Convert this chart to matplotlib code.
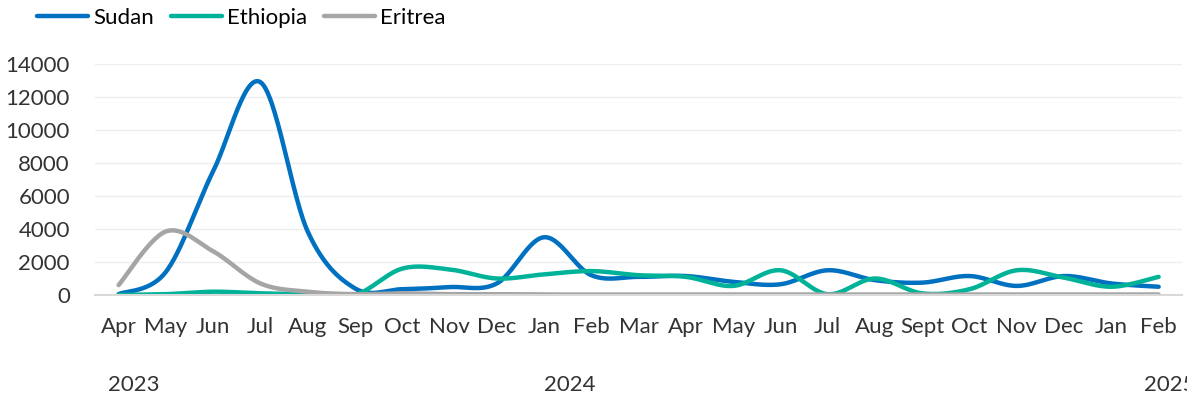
import numpy as np
import matplotlib.pyplot as plt

plt.rcParams['font.family'] = ['Lato', 'DejaVu Sans']

months = ['Apr', 'May', 'Jun', 'Jul', 'Aug', 'Sep', 'Oct', 'Nov', 'Dec', 'Jan',
          'Feb', 'Mar', 'Apr', 'May', 'Jun', 'Jul', 'Aug', 'Sept', 'Oct', 'Nov',
          'Dec', 'Jan', 'Feb']
sudan = [50, 1400, 7500, 12900, 3850, 400, 350, 480, 700, 3500,
         1200, 1100, 1150, 800, 650, 1500, 900, 750, 1150, 550,
         1150, 700, 500]
ethiopia = [0, 50, 200, 100, 50, 0, 1600, 1550, 1000, 1250,
            1450, 1200, 1100, 550, 1500, 50, 1000, 100, 350, 1500,
            1050, 500, 1100]
eritrea = [600, 3850, 2650, 700, 200, 50, 100, 50, 50, 30,
           30, 30, 30, 30, 30, 30, 30, 30, 30, 30,
           30, 30, 30]
years = ['2023', '2024', '2025']
year_pos = [-0.22, 9.0, 21.7]


def smooth(y, n=30):
    # Excel-like smoothed line: cubic Bezier through points (Catmull-Rom)
    y = np.asarray(y, dtype=float)
    x = np.arange(len(y), dtype=float)
    px = np.concatenate([[x[0]], x, [x[-1]]])
    py = np.concatenate([[y[0]], y, [y[-1]]])
    xs, ys = [], []
    t = np.linspace(0, 1, n)
    for i in range(1, len(px) - 2):
        p0 = np.array([px[i], py[i]])
        p3 = np.array([px[i + 1], py[i + 1]])
        p1 = p0 + (np.array([px[i + 1], py[i + 1]]) - np.array([px[i - 1], py[i - 1]])) / 6
        p2 = p3 - (np.array([px[i + 2], py[i + 2]]) - np.array([px[i], py[i]])) / 6
        b = ((1 - t) ** 3)[:, None] * p0 + (3 * (1 - t) ** 2 * t)[:, None] * p1 \
            + (3 * (1 - t) * t ** 2)[:, None] * p2 + (t ** 3)[:, None] * p3
        xs.append(b[:, 0])
        ys.append(b[:, 1])
    return np.concatenate(xs), np.concatenate(ys)


fig = plt.figure(figsize=(11.87, 4), dpi=100)
ax = fig.add_axes([0.080, 0.2625, 0.916, 0.5775])

for data, color, label in [(sudan, '#0070C0', 'Sudan'),
                           (ethiopia, '#00B398', 'Ethiopia'),
                           (eritrea, '#A5A5A5', 'Eritrea')]:
    sx, sy = smooth(data)
    ax.plot(sx, sy, color=color, lw=3.2, label=label, solid_capstyle='round')

ax.set_xlim(-0.5, len(months) - 0.5)
ax.set_ylim(0, 14000)
ax.set_yticks(np.arange(0, 14001, 2000))
ax.set_xticks(np.arange(len(months)))
ax.set_xticklabels(months)
ax.tick_params(axis='both', length=0, labelsize=16, colors='#333333')
ax.tick_params(axis='x', pad=16)
ax.tick_params(axis='y', pad=18)
ax.grid(axis='y', color='#EEEEEE', lw=1)
ax.set_axisbelow(True)
for s in ['top', 'right', 'left']:
    ax.spines[s].set_visible(False)
ax.spines['bottom'].set_color('#D9D9D9')
ax.spines['bottom'].set_linewidth(1.5)

for yr, p in zip(years, year_pos):
    ax.text(p, -0.39, yr, transform=ax.get_xaxis_transform(),
            fontsize=16, color='#333333', ha='left', va='center', clip_on=False)

ax.legend(loc='center left', bbox_to_anchor=(-0.053, 1.2), ncol=3, frameon=False,
          fontsize=16, handlelength=2.3, handletextpad=0.22, columnspacing=0.75,
          borderaxespad=0, borderpad=0)

fig.savefig('out.png', dpi=100)
